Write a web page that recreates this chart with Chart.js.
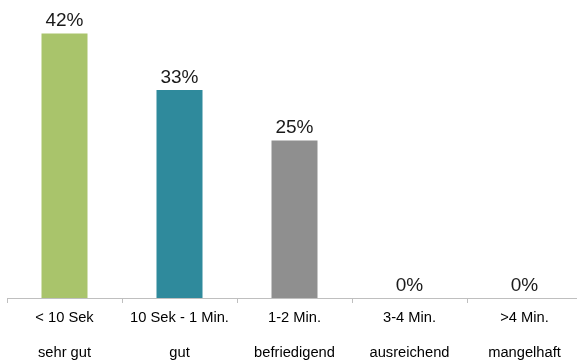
<!DOCTYPE html>
<html>
<head>
<meta charset="utf-8">
<script src="https://cdn.jsdelivr.net/npm/chart.js@4/dist/chart.umd.min.js"></script>
<style>
  html, body { margin: 0; padding: 0; overflow: hidden; background: #fff; }
  #wrap { position: relative; width: 582px; height: 363px; }
</style>
</head>
<body>
<div id="wrap"><canvas id="chart"></canvas></div>
<script>
// Response time categories (two-line labels: time range / rating)
const timeRanges = ['< 10 Sek', '10 Sek - 1 Min.', '1-2 Min.', '3-4 Min.', '>4 Min.'];
const ratings = ['sehr gut', 'gut', 'befriedigend', 'ausreichend', 'mangelhaft'];
// Share of responses in percent
const shares = [42, 33, 25, 0, 0];
const barColors = ['#A9C46B', '#2F8A9C', '#8F8F8F', '#8F8F8F', '#8F8F8F'];

const labels = timeRanges.map((t, i) => [t, ratings[i]]);

// Draws the percentage above each bar
const valueLabels = {
  id: 'valueLabels',
  afterDatasetsDraw(chart) {
    const ctx = chart.ctx;
    const meta = chart.getDatasetMeta(0);
    ctx.save();
    ctx.font = '19px "Liberation Sans", Arial, sans-serif';
    ctx.fillStyle = '#1a1a1a';
    ctx.textAlign = 'center';
    ctx.textBaseline = 'alphabetic';
    meta.data.forEach((bar, i) => {
      ctx.fillText(shares[i] + '%', bar.x, bar.y - 7.5);
    });
    ctx.restore();
  }
};

new Chart(document.getElementById('chart'), {
  type: 'bar',
  data: {
    labels: labels,
    datasets: [{
      data: shares,
      backgroundColor: barColors,
      borderWidth: 0,
      categoryPercentage: 1,
      barPercentage: 0.4
    }]
  },
  options: {
    responsive: true,
    maintainAspectRatio: false,
    animation: false,
    layout: { padding: { left: 7, right: 0, top: 14.5, bottom: 0 } },
    plugins: { legend: { display: false }, tooltip: { enabled: false } },
    scales: {
      x: {
        offset: true,
        grid: {
          offset: true,
          drawOnChartArea: false,
          drawTicks: true,
          tickLength: 5,
          color: '#BFBFBF'
        },
        border: { display: true, color: '#BFBFBF', width: 1 },
        ticks: {
          color: '#000',
          padding: -3,
          maxRotation: 0,
          autoSkip: false,
          font: { family: '"Liberation Sans", Arial, sans-serif', size: 14.7, lineHeight: 2.4 }
        },
        afterFit(scale) { scale.height = 65; }
      },
      y: {
        display: false,
        min: 0,
        max: 45
      }
    }
  },
  plugins: [valueLabels]
});
</script>
</body>
</html>
